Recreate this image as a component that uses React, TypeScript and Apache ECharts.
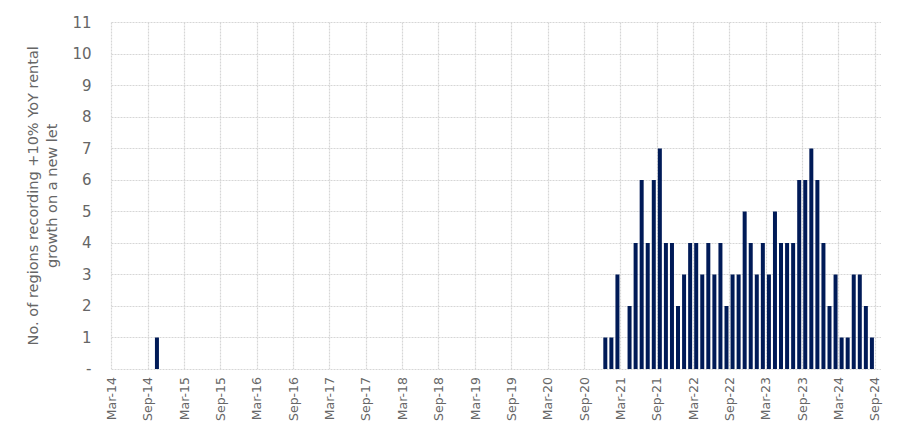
import React, { useEffect, useRef } from "react";
import * as echarts from "echarts";

// Tick labels on the time axis (every 6 months)
const tickLabels = [
  "Mar-14", "Sep-14", "Mar-15", "Sep-15", "Mar-16", "Sep-16", "Mar-17", "Sep-17",
  "Mar-18", "Sep-18", "Mar-19", "Sep-19", "Mar-20", "Sep-20", "Mar-21", "Sep-21",
  "Mar-22", "Sep-22", "Mar-23", "Sep-23", "Mar-24", "Sep-24",
];

// Monthly categories Mar-14 .. Sep-24
const monthNames = ["Jan", "Feb", "Mar", "Apr", "May", "Jun", "Jul", "Aug", "Sep", "Oct", "Nov", "Dec"];
const monthCategories: string[] = Array.from({ length: 127 }, (_, i) => {
  const m = (2 + i) % 12;
  const y = 14 + Math.floor((2 + i) / 12);
  return `${monthNames[m]}-${y}`;
});

// No. of regions recording +10% YoY rental growth on a new let (one row = 6 months)
const regionCounts: (number | null)[] = [
  0, 0, 0, 0, 0, 0, // Mar-14
  0, 1, 0, 0, 0, 0, // Sep-14
  0, 0, 0, 0, 0, 0, // Mar-15
  0, 0, 0, 0, 0, 0, // Sep-15
  0, 0, 0, 0, 0, 0, // Mar-16
  0, 0, 0, 0, 0, 0, // Sep-16
  0, 0, 0, 0, 0, 0, // Mar-17
  0, 0, 0, 0, 0, 0, // Sep-17
  0, 0, 0, 0, 0, 0, // Mar-18
  0, 0, 0, 0, 0, 0, // Sep-18
  0, 0, 0, 0, 0, 0, // Mar-19
  0, 0, 0, 0, 0, 0, // Sep-19
  0, 0, 0, 0, 0, 0, // Mar-20
  0, 0, 0, 1, 1, 3, // Sep-20
  0, 2, 4, 6, 4, 6, // Mar-21
  7, 4, 4, 2, 3, 4, // Sep-21
  4, 3, 4, 3, 4, 2, // Mar-22
  3, 3, 5, 4, 3, 4, // Sep-22
  3, 5, 4, 4, 4, 6, // Mar-23
  6, 7, 6, 4, 2, 3, // Sep-23
  1, 1, 3, 3, 2, 1, // Mar-24
  null,             // Sep-24
];

const FONT = "'DejaVu Sans', sans-serif";
const TEXT_COLOR = "#666666";
const GRID_COLOR = "#d6d6d6";

export default function App() {
  const ref = useRef<HTMLDivElement>(null);

  useEffect(() => {
    if (!ref.current) return;
    const chart = echarts.init(ref.current, undefined, { renderer: "svg" });
    chart.setOption({
      animation: false,
      backgroundColor: "#ffffff",
      textStyle: { fontFamily: FONT },
      grid: { left: 111.5, right: 22, top: 22.5, bottom: 69, containLabel: false },
      xAxis: [
        {
          type: "category",
          data: monthCategories,
          boundaryGap: true,
          show: false,
        },
        {
          type: "value",
          position: "bottom",
          min: 0,
          max: 127,
          interval: 6,
          axisLine: { show: false },
          axisTick: { show: false },
          splitLine: {
            show: true,
            showMaxLine: false,
            lineStyle: { color: GRID_COLOR, type: [2, 1], width: 1.2 },
          },
          axisLabel: {
            rotate: 90,
            margin: 8,
            showMaxLabel: false,
            color: TEXT_COLOR,
            fontFamily: FONT,
            fontSize: 12.5,
            formatter: (v: number) => tickLabels[Math.round(v / 6)] ?? "",
          },
        },
      ],
      yAxis: {
        type: "value",
        min: 0,
        max: 11,
        interval: 1,
        name: "No. of regions recording +10% YoY rental\ngrowth on a new let",
        nameLocation: "middle",
        nameRotate: 90,
        nameGap: 47,
        nameTextStyle: {
          color: TEXT_COLOR,
          fontFamily: FONT,
          fontSize: 14.5,
          lineHeight: 19,
          align: "center",
        },
        axisLine: { show: false },
        axisTick: { show: false },
        splitLine: { show: true, lineStyle: { color: GRID_COLOR, type: [2, 1], width: 1.2 } },
        axisLabel: {
          color: TEXT_COLOR,
          fontFamily: FONT,
          fontSize: 15,
          margin: 20,
          formatter: (v: number) => (v === 0 ? "-" : String(v)),
        },
      },
      series: [
        {
          type: "bar",
          xAxisIndex: 0,
          data: regionCounts,
          barCategoryGap: "34%",
          itemStyle: { color: "#001a57" },
        },
      ],
    });
    return () => chart.dispose();
  }, []);

  return (
    <div
      ref={ref}
      style={{ position: "fixed", left: 0, top: 0, width: 903, height: 438, background: "#fff" }}
    />
  );
}
